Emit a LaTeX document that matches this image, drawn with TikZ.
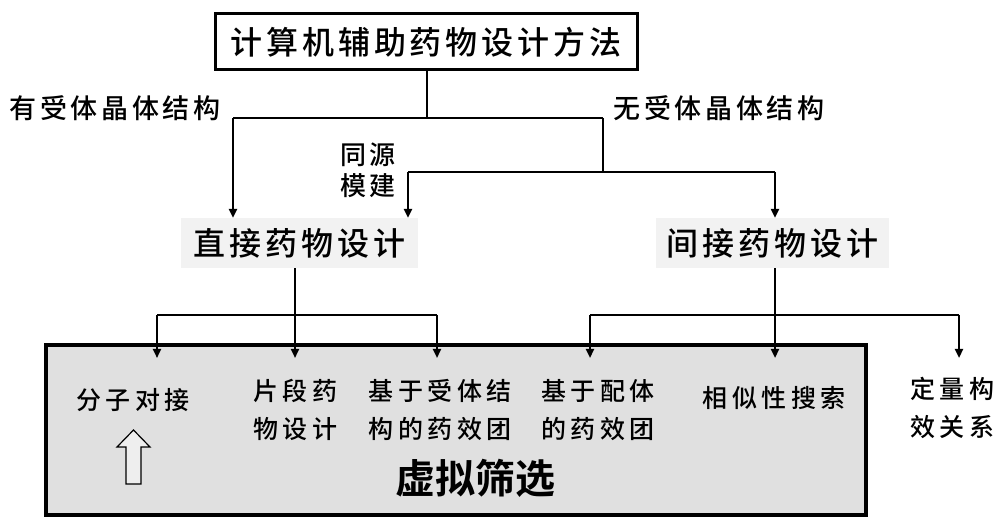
\documentclass[tikz,border=0pt]{standalone}
\usepackage{fontspec}
\newfontfamily\cjk{Noto Sans CJK SC Medium}
\newfontfamily\cjkbold{Noto Sans CJK SC Bold}
\usetikzlibrary{arrows.meta}
\definecolor{lightbox}{HTML}{F2F2F2}
\definecolor{screenbox}{HTML}{E0E0E0}
\definecolor{hollow}{HTML}{EEEEEE}
\tikzset{
  conn/.style={line width=2.2pt},
  arr/.style={line width=2.2pt,-{Triangle[length=9pt,width=8pt]}},
  lbl/.style={inner sep=0pt,font=\cjk\fontsize{27}{32}\selectfont\addfontfeature{LetterSpace=13}},
  boxtxt/.style={inner sep=0pt,align=center,font=\cjk\fontsize{25}{38}\selectfont\addfontfeature{LetterSpace=18}},
  midbox/.style={fill=lightbox,inner sep=0pt,minimum height=50pt,font=\cjk\fontsize{32}{36}\selectfont\addfontfeature{LetterSpace=12}},
}
\begin{document}
\begin{tikzpicture}[x=1pt,y=-1pt]
\useasboundingbox (0,0) rectangle (1005,521);
% top
\node[draw,line width=3pt,minimum width=422pt,minimum height=56pt,inner sep=0pt,
      font=\cjk\fontsize{32}{36}\selectfont\addfontfeature{LetterSpace=12}] (top) at (426,42) {计算机辅助药物设计方法};
\node[lbl] (has) at (115,108) {有受体晶体结构};
\node[lbl] (nohas) at (719,108) {无受体晶体结构};
\node[inner sep=0pt,align=center,font=\cjk\fontsize{26}{31}\selectfont\addfontfeature{LetterSpace=8}] (homo) at (368,170) {同源\\模建};
% middle boxes
\node[midbox,minimum width=237pt] (direct) at (299.5,243) {直接药物设计};
\node[midbox,minimum width=233pt] (indirect) at (772.5,243) {间接药物设计};
% big box
\node[draw,line width=4pt,fill=screenbox,minimum width=820pt,minimum height=170pt,inner sep=0pt] (vs) at (456,430) {};
\node[inner sep=0pt,font=\cjkbold\fontsize{40}{44}\selectfont] (vstxt) at (475,478) {虚拟筛选};
% items
\node[boxtxt] (dock) at (133,400) {分子对接};
\node[boxtxt] (frag) at (295,410) {片段药\\物设计};
\node[boxtxt] (rec) at (440,410) {基于受体结\\构的药效团};
\node[boxtxt] (lig) at (598,410) {基于配体\\的药效团};
\node[boxtxt] (sim) at (774,398) {相似性搜索};
\node[boxtxt] (qsar) at (952,408) {定量构\\效关系};
% hollow arrow
\draw[line width=1.2pt,fill=hollow] (126,484) -- (126,447) -- (117,447) -- (133.5,430) -- (150,447) -- (141,447) -- (141,484) -- cycle;
% connectors
\coordinate (j1) at (427,118);
\coordinate (jL) at (233,118);
\coordinate (jR) at (603,118);
\coordinate (k1) at (603,172);
\coordinate (kL) at (408,172);
\coordinate (kR) at (775,172);
\draw[conn] (top.south -| j1) -- (j1);
\draw[conn] (jL) -- (jR);
\draw[arr] (jL) -- (jL |- direct.north);
\draw[conn] (jR) -- (k1);
\draw[conn] (kL) -- (kR);
\draw[arr] (kL) -- (kL |- direct.north);
\draw[arr] (kR) -- (kR |- indirect.north);
% lower branches
\coordinate (d0) at (295,315);
\coordinate (dL) at (157,315);
\coordinate (dR) at (437,315);
\coordinate (i0) at (775,315);
\coordinate (iL) at (590,315);
\coordinate (iR) at (959,315);
\coordinate (tipY) at (0,358);
\draw[arr] (direct.south -| d0) -- (d0 |- tipY);
\draw[conn] (dL) -- (dR);
\draw[arr] (dL) -- (dL |- tipY);
\draw[arr] (dR) -- (dR |- tipY);
\draw[arr] (indirect.south -| i0) -- (i0 |- tipY);
\draw[conn] (iL) -- (iR);
\draw[arr] (iL) -- (iL |- tipY);
\draw[arr] (iR) -- (iR |- tipY);
\end{tikzpicture}
\end{document}
